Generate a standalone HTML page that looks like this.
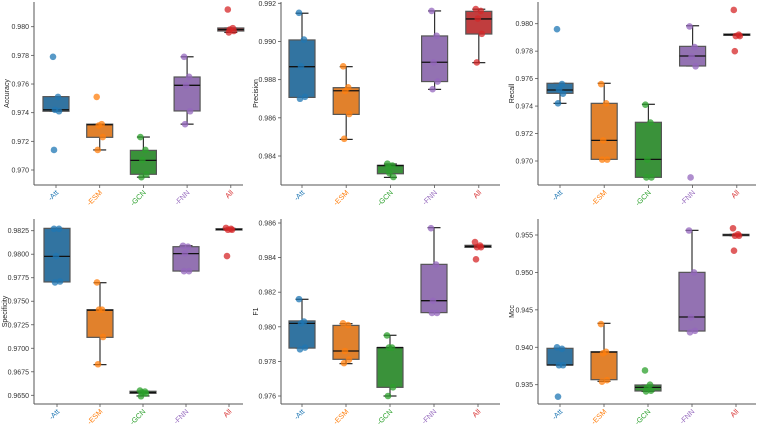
<!DOCTYPE html>
<html><head><meta charset="utf-8">
<style>
html,body{margin:0;padding:0;background:#fff;}
svg{display:block;font-family:"Liberation Sans","DejaVu Sans",sans-serif;}
</style></head>
<body>
<svg id="chart" width="759" height="424" viewBox="0 0 759 424" xmlns="http://www.w3.org/2000/svg"></svg>
<script>
const categories = ["-Att","-ESM","-GCN","-FNN","All"];
const metrics = ["Accuracy","Precision","Recall","Specificity","F1","Mcc"];
// box stats per metric: [q1, median, q3, whiskerLow, whiskerHigh] per category
const accBoxes = [[0.9741,0.9742,0.97512,0.9741,0.97512],[0.97228,0.97316,0.9732,0.9714,0.9732],[0.9697,0.97067,0.97137,0.9695,0.9723],[0.97412,0.97591,0.97649,0.9732,0.9779],[0.9797,0.9798,0.97991,0.9796,0.97991]];
const precBoxes = [[0.98707,0.98868,0.99008,0.98707,0.99148],[0.98618,0.98742,0.98758,0.98487,0.98868],[0.98307,0.9835,0.98351,0.98288,0.98358],[0.9879,0.98891,0.99029,0.98749,0.9916],[0.99039,0.99118,0.99158,0.98889,0.99169]];
const recBoxes = [[0.97493,0.97517,0.97566,0.9742,0.97566],[0.97012,0.9715,0.9742,0.97012,0.97566],[0.96881,0.97012,0.97282,0.96881,0.97413],[0.97692,0.97765,0.97835,0.97692,0.97985],[0.97915,0.9792,0.97925,0.97915,0.97925]];
const specBoxes = [[0.97705,0.97977,0.98275,0.97705,0.98275],[0.97116,0.97405,0.9741,0.96826,0.97697],[0.96521,0.9653,0.96543,0.96493,0.96543],[0.97821,0.98006,0.9808,0.97821,0.9809],[0.98257,0.98264,0.98271,0.98257,0.98275]];
const f1Boxes = [[0.97877,0.9802,0.98034,0.97877,0.98159],[0.97812,0.9786,0.98008,0.97787,0.98018],[0.9765,0.9788,0.9788,0.976,0.97951],[0.98082,0.98151,0.98361,0.98082,0.98573],[0.98459,0.98465,0.98471,0.98459,0.98471]];
const mccBoxes = [[0.93763,0.93763,0.93986,0.93763,0.93986],[0.93567,0.93935,0.93941,0.93545,0.9432],[0.93416,0.93464,0.93496,0.9341,0.93496],[0.94217,0.94404,0.95001,0.94217,0.95562],[0.95491,0.955,0.95509,0.95491,0.95509]];
// individual points per metric / category
const accPoints = [[0.9779,0.9751,0.9742,0.9741,0.9714],[0.9751,0.9732,0.9731,0.9723,0.9714],[0.9723,0.9714,0.9707,0.9697,0.9695],[0.9779,0.9765,0.9759,0.9741,0.9732],[0.9812,0.9799,0.9798,0.9797,0.9796]];
const precPoints = [[0.9915,0.9901,0.9887,0.9871,0.9870],[0.9887,0.9876,0.9874,0.9862,0.9849],[0.9836,0.9835,0.9831,0.9829,0.9834],[0.9916,0.9903,0.9889,0.9879,0.9875],[0.9917,0.9916,0.9912,0.9904,0.9889]];
const recPoints = [[0.9796,0.9756,0.9752,0.9749,0.9742],[0.9756,0.9742,0.9715,0.9701,0.9701],[0.9741,0.9728,0.9701,0.9688,0.9688],[0.9798,0.9783,0.9776,0.9769,0.9688],[0.9810,0.9792,0.9791,0.9791,0.9780]];
const specPoints = [[0.9827,0.9827,0.9798,0.9771,0.9770],[0.9770,0.9741,0.9741,0.9712,0.9683],[0.9655,0.9654,0.9653,0.9652,0.9649],[0.9809,0.9808,0.9801,0.9782,0.9782],[0.9828,0.9827,0.9826,0.9826,0.9798]];
const f1Points = [[0.9816,0.9803,0.9802,0.9788,0.9787],[0.9802,0.9801,0.9786,0.9781,0.9779],[0.9795,0.9788,0.9788,0.9765,0.9760],[0.9857,0.9836,0.9815,0.9808,0.9808],[0.9849,0.9847,0.9846,0.9846,0.9839]];
const mccPoints = [[0.9400,0.9398,0.9376,0.9376,0.9334],[0.9431,0.9394,0.9392,0.9356,0.9354],[0.9369,0.9350,0.9346,0.9342,0.9341],[0.9556,0.9500,0.9440,0.9422,0.9420],[0.9559,0.9551,0.9549,0.9549,0.9529]];
// tick labels
const accTicks = ["0.970","0.972","0.974","0.976","0.978","0.980"];
const precTicks = ["0.984","0.986","0.988","0.990","0.992"];
const recTicks = ["0.970","0.972","0.974","0.976","0.978","0.980"];
const specTicks = ["0.9650","0.9675","0.9700","0.9725","0.9750","0.9775","0.9800","0.9825"];
const f1Ticks = ["0.976","0.978","0.980","0.982","0.984","0.986"];
const mccTicks = ["0.935","0.940","0.945","0.950","0.955"];

const boxData=[accBoxes,precBoxes,recBoxes,specBoxes,f1Boxes,mccBoxes];
const pointData=[accPoints,precPoints,recPoints,specPoints,f1Points,mccPoints];
const tickData=[accTicks,precTicks,recTicks,specTicks,f1Ticks,mccTicks];
const layout=[
 {l:34,r:243,t:2,b:185,v0:0.970,p0:170,v1:0.980,p1:26.7,lx:7,c0:56,cs:43.7},
 {l:281,r:500,t:2,b:185,v0:0.984,p0:156,v1:0.992,p1:3.3,lx:256,c0:302,cs:44.2},
 {l:538,r:756,t:2,b:185,v0:0.970,p0:161,v1:0.980,p1:23.7,lx:512,c0:560,cs:44.2},
 {l:34,r:243,t:219,b:404,v0:0.9650,p0:395.3,v1:0.9825,p1:230.7,lx:5,c0:57,cs:43},
 {l:281,r:500,t:219,b:404,v0:0.976,p0:396,v1:0.986,p1:223,lx:256,c0:302,cs:44},
 {l:538,r:756,t:219,b:404,v0:0.935,p0:384.7,v1:0.955,p1:235,lx:512,c0:560,cs:44}
];
const boxFill=["#3274a1","#e1812c","#3a923a","#9372b2","#c03d3e"];
const ptCol=["#1f77b4","#ff7f0e","#2ca02c","#9467bd","#d62728"];
const jit=[-3,2,-1,3,-2];
const NS="http://www.w3.org/2000/svg";
const svg=document.getElementById('chart');
function mk(tag,attrs,parent){const e=document.createElementNS(NS,tag);for(const k in attrs)e.setAttribute(k,attrs[k]);(parent||svg).appendChild(e);return e;}

metrics.forEach((m,mi)=>{
  const L=layout[mi];
  const y=v=>L.p0+(v-L.v0)*(L.p1-L.p0)/(L.v1-L.v0);
  const x=i=>L.c0+i*L.cs;
  const g=mk('g',{});
  
  
  const ys=mk('line',{x1:L.l,y1:L.t,x2:L.l,y2:L.b,stroke:'#555','stroke-width':1},g);
  
  
  const xs=mk('line',{x1:L.l,y1:L.b,x2:L.r,y2:L.b,stroke:'#555','stroke-width':1},g);
  
  
  tickData[mi].forEach(t=>{
    const v=parseFloat(t),yy=y(v);
    mk('line',{x1:L.l-3,y1:yy,x2:L.l,y2:yy,stroke:'#555','stroke-width':0.8},g);
    const tx=mk('text',{x:L.l-5,y:yy+2.5,'font-size':7,'text-anchor':'end',fill:'#333'},g);
    tx.textContent=t;
    
    
  });
  const cy=(L.t+L.b)/2;
  const yt=mk('text',{x:L.lx,y:cy,'font-size':7,'text-anchor':'middle',fill:'#222',transform:`rotate(-90 ${L.lx} ${cy})`,'dominant-baseline':'middle'},g);
  yt.textContent=m;
  
  
  categories.forEach((c,ci)=>{
    const cx=x(ci);
    const [q1,med,q3,wl,wh]=boxData[mi][ci];
    const bw=26;
    const wg=mk('g',{},g);
    
    
    mk('line',{x1:cx,y1:y(q3),x2:cx,y2:y(wh),stroke:'#333','stroke-width':1.2},wg);
    mk('line',{x1:cx,y1:y(q1),x2:cx,y2:y(wl),stroke:'#333','stroke-width':1.2},wg);
    mk('line',{x1:cx-6.5,y1:y(wh),x2:cx+6.5,y2:y(wh),stroke:'#222','stroke-width':1.2},wg);
    mk('line',{x1:cx-6.5,y1:y(wl),x2:cx+6.5,y2:y(wl),stroke:'#222','stroke-width':1.2},wg);
    mk('rect',{x:cx-bw/2,y:y(q3),width:bw,height:Math.max(1,y(q1)-y(q3)),fill:boxFill[ci],stroke:'#555','stroke-width':1.2},wg);
    mk('line',{x1:cx-bw/2,y1:y(med),x2:cx+bw/2,y2:y(med),stroke:'#111','stroke-width':1.3},wg);
    pointData[mi][ci].forEach((v,pi)=>{
      const p=mk('circle',{cx:cx+jit[pi],cy:y(v),r:3.3,fill:ptCol[ci],'fill-opacity':0.75},wg);
      
      
    });
    mk('line',{x1:cx,y1:L.b,x2:cx,y2:L.b+3,stroke:'#555','stroke-width':0.8},g);
    const lx=cx+3,ly=L.b+8;
    const xl=mk('text',{x:lx,y:ly,'font-size':7.3,'text-anchor':'end',fill:ptCol[ci],transform:`rotate(-45 ${lx} ${ly})`},g);
    xl.textContent=c;
    
    
  });
});
</script>
</body></html>
